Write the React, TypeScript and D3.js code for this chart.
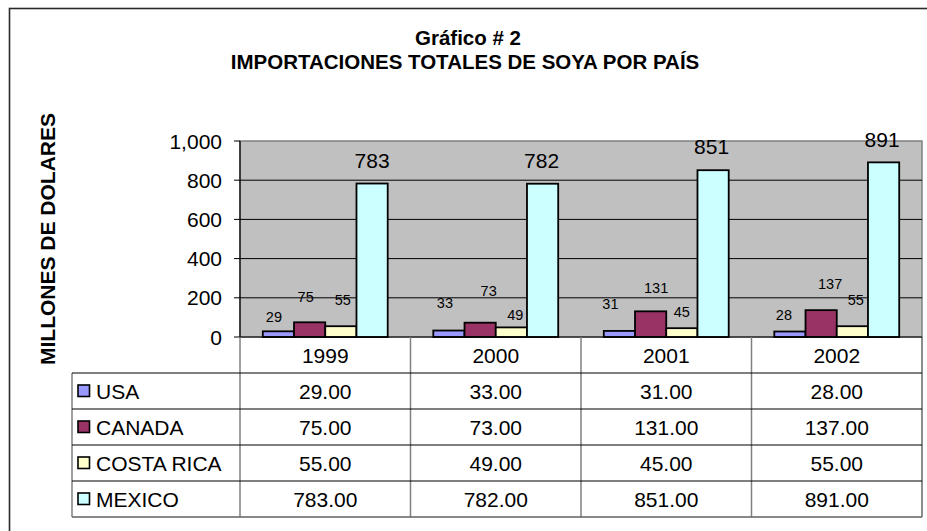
import React from "react";
import * as d3 from "d3";

const years = ["1999", "2000", "2001", "2002"];
const seriesNames = ["USA", "CANADA", "COSTA RICA", "MEXICO"];
const usa = [29, 33, 31, 28];
const canada = [75, 73, 131, 137];
const costaRica = [55, 49, 45, 55];
const mexico = [783, 782, 851, 891];
const yTicks = [0, 200, 400, 600, 800, 1000];
const title1 = "Gráfico # 2";
const title2 = "IMPORTACIONES TOTALES DE SOYA POR PAÍS";
const yTitle = "MILLONES DE DOLARES";

const seriesValues = [usa, canada, costaRica, mexico];
const colors = ["#9999ff", "#993366", "#ffffcc", "#ccffff"];

// label nudges (layout only): horizontal shift from bar centre, lift above bar top
const labelDx = [
  [-4.5, -4, -9, -6],
  [-4, 8.5, 5.5, 9],
  [2, 4, 0, 3.5],
  [0, -1, -1.5, -1.5],
];
const labelLift = [
  [14, 28, 27, 17],
  [25, 32, 23, 26],
  [26.5, 12.7, 16, 26.5],
  [22.7, 23.6, 23.3, 23],
];

const W = 927;
const H = 531;
const plotL = 240;
const plotR = 922;
const plotT = 141;
const plotB = 337;
const rowH = 36;
const tableL = 72;
const FONT = "Arial, 'Liberation Sans', Helvetica, sans-serif";

export default function App() {
  const x = d3.scaleBand<string>().domain(years).range([plotL, plotR]);
  const inner = d3
    .scaleBand<string>()
    .domain(seriesNames)
    .range([0, x.bandwidth()])
    .paddingInner(0)
    .paddingOuter(0.73);
  const y = d3.scaleLinear().domain([0, 1000]).range([plotB, plotT]);
  const fmt = d3.format(",");
  const fmt2 = d3.format(".2f");

  const rowTop = (i: number) => plotB + rowH * (i + 1);
  const tableBottom = rowTop(seriesNames.length);

  return (
    <svg
      width={W}
      height={H}
      style={{ position: "absolute", left: 0, top: 0, background: "#fff" }}
      fontFamily={FONT}
    >
      <rect x={0} y={0} width={W} height={H} fill="#fff" />
      {/* outer chart border */}
      <rect x={9.5} y={8.5} width={940} height={560} fill="none" stroke="#2a2a2a" strokeWidth={1.6} />

      {/* titles */}
      <text x={468} y={45} textAnchor="middle" fontWeight="bold" fontSize={20.5}>
        {title1}
      </text>
      <text x={465} y={69} textAnchor="middle" fontWeight="bold" fontSize={20.5}>
        {title2}
      </text>
      <text
        transform={`translate(55,${(plotT + plotB) / 2}) rotate(-90)`}
        textAnchor="middle"
        fontWeight="bold"
        fontSize={21}
      >
        {yTitle}
      </text>

      {/* plot area */}
      <rect x={plotL} y={plotT} width={plotR - plotL} height={plotB - plotT} fill="#c0c0c0" stroke="#808080" strokeWidth={1.5} />
      {yTicks.map((t) => (
        <g key={t}>
          {t > 0 && t < 1000 && (
            <line x1={plotL} x2={plotR} y1={y(t)} y2={y(t)} stroke="#000" strokeWidth={1} />
          )}
          <line x1={plotL - 6} x2={plotL} y1={y(t)} y2={y(t)} stroke="#000" strokeWidth={1} />
          <text x={222} y={y(t)} textAnchor="end" dominantBaseline="central" fontSize={21}>
            {fmt(t)}
          </text>
        </g>
      ))}

      {/* bars */}
      {seriesNames.map((s, si) =>
        years.map((yr, yi) => {
          const v = seriesValues[si][yi];
          const bx = (x(yr) as number) + (inner(s) as number);
          return (
            <rect
              key={s + yr}
              x={bx}
              y={y(v)}
              width={inner.bandwidth()}
              height={plotB - y(v)}
              fill={colors[si]}
              stroke="#000"
              strokeWidth={1.8}
            />
          );
        })
      )}

      {/* value labels */}
      {seriesNames.map((s, si) =>
        years.map((yr, yi) => {
          const v = seriesValues[si][yi];
          const cx = (x(yr) as number) + (inner(s) as number) + inner.bandwidth() / 2 + labelDx[si][yi];
          const cy = y(v) - labelLift[si][yi];
          return (
            <text
              key={"l" + s + yr}
              x={cx}
              y={cy}
              textAnchor="middle"
              dominantBaseline="central"
              fontSize={si === 3 ? 21 : 14.5}
            >
              {v}
            </text>
          );
        })
      )}

      {/* axes lines */}
      <line x1={plotL} x2={plotL} y1={plotT} y2={plotB} stroke="#000" strokeWidth={1.2} />
      <line x1={plotL} x2={plotR} y1={plotB} y2={plotB} stroke="#000" strokeWidth={1.2} />

      {/* data table */}
      {years.map((yr) => (
        <text
          key={"h" + yr}
          x={(x(yr) as number) + x.bandwidth() / 2}
          y={plotB + rowH / 2}
          textAnchor="middle"
          dominantBaseline="central"
          fontSize={21}
        >
          {yr}
        </text>
      ))}
      {/* vertical lines */}
      <line x1={plotL} x2={plotL} y1={plotB} y2={tableBottom} stroke="#808080" strokeWidth={1.5} />
      {years.slice(1).map((yr) => (
        <line key={"v" + yr} x1={x(yr) as number} x2={x(yr) as number} y1={plotB} y2={tableBottom} stroke="#808080" strokeWidth={1.5} />
      ))}
      <line x1={plotR} x2={plotR} y1={plotB} y2={tableBottom} stroke="#404040" strokeWidth={1.2} />
      <line x1={tableL} x2={tableL} y1={rowTop(0)} y2={tableBottom} stroke="#808080" strokeWidth={1.5} />
      {/* horizontal lines */}
      {seriesNames.map((s, i) => (
        <line key={"hl" + s} x1={tableL} x2={plotR} y1={rowTop(i)} y2={rowTop(i)} stroke="#000" strokeWidth={1.2} />
      ))}
      <line x1={tableL} x2={plotR} y1={tableBottom} y2={tableBottom} stroke="#606060" strokeWidth={1.5} />

      {seriesNames.map((s, si) => {
        const cy = rowTop(si) + rowH / 2;
        return (
          <g key={"row" + s}>
            <rect x={78} y={cy - 6} width={11.5} height={11.5} fill={colors[si]} stroke="#000" strokeWidth={1.6} />
            <text x={96} y={cy} dominantBaseline="central" fontSize={21}>
              {s}
            </text>
            {years.map((yr, yi) => (
              <text
                key={"c" + s + yr}
                x={(x(yr) as number) + x.bandwidth() / 2}
                y={cy}
                textAnchor="middle"
                dominantBaseline="central"
                fontSize={21}
              >
                {fmt2(seriesValues[si][yi])}
              </text>
            ))}
          </g>
        );
      })}
    </svg>
  );
}
